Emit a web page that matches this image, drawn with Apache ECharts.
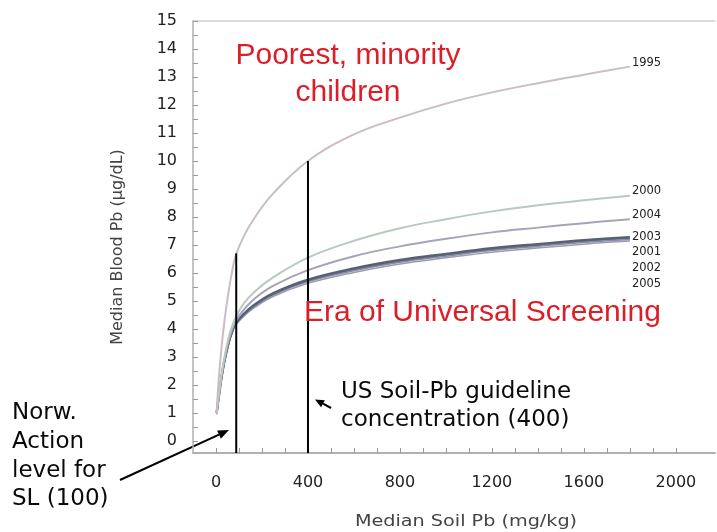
<!DOCTYPE html>
<html>
<head>
<meta charset="utf-8">
<script src="https://cdn.jsdelivr.net/npm/echarts@6/dist/echarts.min.js"></script>
<style>html,body{margin:0;padding:0;background:#fff;}#c{width:717px;height:532px;}</style>
</head>
<body>
<div id="c"></div>
<script>
// ---- data ----
const soilPb = [3, 10, 23, 37, 55, 70, 85, 120, 170, 250, 400, 600, 800, 1000, 1200, 1400, 1600, 1800];
const years = ['1995', '2000', '2004', '2003', '2001', '2002', '2005'];
const blood1995 = [1.0, 2.0, 3.25, 4.3, 5.35, 6.05, 6.6, 7.3, 8.0, 8.85, 10.0, 10.95, 11.55, 12.05, 12.45, 12.78, 13.08, 13.37];
const blood2000 = [1.0, 1.5, 2.3, 3.0, 3.7, 4.1, 4.4, 4.9, 5.35, 5.85, 6.55, 7.15, 7.6, 7.92, 8.2, 8.42, 8.6, 8.76];
const blood2004 = [1.0, 1.47, 2.25, 2.92, 3.58, 3.98, 4.27, 4.68, 5.1, 5.55, 6.1, 6.6, 6.95, 7.22, 7.45, 7.62, 7.78, 7.92];
const blood2003 = [1.0, 1.45, 2.22, 2.87, 3.52, 3.92, 4.19, 4.53, 4.88, 5.28, 5.76, 6.16, 6.46, 6.68, 6.88, 7.03, 7.17, 7.28];
const blood2001 = [1.0, 1.44, 2.2, 2.85, 3.5, 3.9, 4.17, 4.5, 4.85, 5.25, 5.72, 6.12, 6.42, 6.64, 6.84, 6.99, 7.13, 7.24];
const blood2002 = [1.0, 1.43, 2.19, 2.84, 3.48, 3.88, 4.15, 4.48, 4.82, 5.22, 5.69, 6.08, 6.38, 6.6, 6.8, 6.95, 7.09, 7.2];
const blood2005 = [0.95, 1.4, 2.16, 2.81, 3.45, 3.85, 4.12, 4.45, 4.78, 5.17, 5.63, 6.02, 6.32, 6.54, 6.74, 6.89, 7.03, 7.14];
const bloodByYear = [blood1995, blood2000, blood2004, blood2003, blood2001, blood2002, blood2005];

// guideline vertical lines: soil value and blood value reached
const guideSoil = [88, 400];
const guideTop = [6.7, 10.0];

const xTickValues = [0, 100, 200, 300, 400, 500, 600, 700, 800, 900, 1000, 1100, 1200, 1300, 1400, 1500, 1600, 1700, 1800, 1900, 2000];
const xTickLabels = [0, 400, 800, 1200, 1600, 2000];
const yTickValues = [0, 0.5, 1, 1.5, 2, 2.5, 3, 3.5, 4, 4.5, 5, 5.5, 6, 6.5, 7, 7.5, 8, 8.5, 9, 9.5, 10, 10.5, 11, 11.5, 12, 12.5, 13, 13.5, 14, 14.5, 15];
const yTickLabels = [0, 1, 2, 3, 4, 5, 6, 7, 8, 9, 10, 11, 12, 13, 14, 15];

// ---- styles ----
const yearColor = ['#cbbcc6', '#b9cabd', '#a8a2ba', '#596074', '#777f93', '#8a8ea6', '#9b9bb4'];
const yearWidth = [2, 2, 2, 2.5, 1.5, 1.5, 1.5];
const labelDy = [-3.6, -5, -4.2, -0.5, 13.4, 28.3, 43.2];
const X_MIN = -100, X_MAX = 2170, Y_MIN = -0.43, Y_MAX = 15;

const series = years.map((yr, i) => ({
  name: yr,
  type: 'line',
  data: soilPb.map((x, j) => [x, bloodByYear[i][j]]),
  smooth: 0.4,
  showSymbol: false,
  symbol: 'none',
  lineStyle: { color: yearColor[i], width: yearWidth[i] },
  z: 10 - i,
  endLabel: {
    show: true,
    formatter: '{a}',
    distance: 2,
    offset: [0, labelDy[i]],
    fontFamily: 'DejaVu Sans',
    fontSize: 11.5,
    color: '#222'
  }
}));

guideSoil.forEach((s, i) => {
  series.push({
    type: 'line',
    data: [[s, Y_MIN], [s, guideTop[i]]],
    showSymbol: false,
    symbol: 'none',
    lineStyle: { color: '#000', width: 2 },
    z: 20
  });
});

// ---- annotations ----
function arrow(x1, y1, x2, y2, head, w) {
  const dx = x2 - x1, dy = y2 - y1, L = Math.hypot(dx, dy);
  const ux = dx / L, uy = dy / L, px = -uy, py = ux;
  const bx = x2 - ux * head, by = y2 - uy * head;
  return [
    { type: 'line', shape: { x1: x1, y1: y1, x2: bx, y2: by }, style: { stroke: '#000', lineWidth: 2 } },
    { type: 'polygon', shape: { points: [[x2, y2], [bx + px * w, by + py * w], [bx - px * w, by - py * w]] }, style: { fill: '#000' } }
  ];
}
const redFont = { fontFamily: 'Liberation Sans', fontSize: 30, fill: '#dc1e28' };
const blkFont = { fontFamily: 'DejaVu Sans', fontSize: 23, fill: '#0a0a0a' };
function txt(text, x, y, base, align) {
  return { type: 'text', x: x, y: y, z: 50, style: Object.assign({ text: text, align: align || 'left', verticalAlign: 'middle' }, base) };
}
const graphics = [
  txt('Poorest, minority', 348, 56, redFont, 'center'),
  txt('children', 348, 93, redFont, 'center'),
  txt('Era of Universal Screening', 304, 313, redFont),
  txt('US Soil-Pb guideline', 341, 392, blkFont),
  txt('concentration (400)', 341, 420, blkFont),
  txt('Norw.', 12, 413.5, blkFont),
  txt('Action', 12, 442, blkFont),
  txt('level for', 12, 471.5, blkFont),
  txt('SL (100)', 12, 499, blkFont),
  { type: 'text', x: 118, y: 247, rotation: Math.PI / 2, z: 50,
    style: { text: 'Median Blood Pb (µg/dL)', align: 'center', verticalAlign: 'middle', fontFamily: 'DejaVu Sans', fontSize: 16, fill: '#444' } },
  { type: 'text', x: 466, y: 522, scaleX: 1.2, z: 50,
    style: { text: 'Median Soil Pb (mg/kg)', align: 'center', verticalAlign: 'middle', fontFamily: 'DejaVu Sans', fontSize: 16, fill: '#444' } }
].concat(arrow(120, 480, 229, 430, 11, 4.5), arrow(331, 408, 315, 399.5, 9, 4));

const axisGrey = '#b0b0b0';
const chart = echarts.init(document.getElementById('c'), null, { renderer: 'canvas' });
chart.setOption({
  animation: false,
  backgroundColor: '#fff',
  grid: { left: 193, right: 2, top: 21, bottom: 79 },
  xAxis: [{
    type: 'value', min: X_MIN, max: X_MAX,
    axisLine: { show: true, onZero: false, lineStyle: { color: axisGrey, width: 2 } },
    axisTick: { show: true, inside: true, length: 5, customValues: xTickValues, lineStyle: { color: '#999', width: 1 } },
    axisLabel: { customValues: xTickLabels, formatter: v => String(v), margin: 22, fontFamily: 'DejaVu Sans', fontSize: 16, color: '#222' },
    splitLine: { show: false }
  }, {
    type: 'value', position: 'top', min: X_MIN, max: X_MAX,
    axisLine: { show: true, onZero: false, lineStyle: { color: '#d0d0d0', width: 1.5 } },
    axisTick: { show: false }, axisLabel: { show: false }, splitLine: { show: false }
  }],
  yAxis: {
    type: 'value', min: Y_MIN, max: Y_MAX,
    axisLine: { show: true, onZero: false, lineStyle: { color: axisGrey, width: 1.5 } },
    axisTick: { show: true, inside: true, length: 5, customValues: yTickValues, lineStyle: { color: '#999', width: 1 } },
    axisLabel: { customValues: yTickLabels, formatter: v => String(v), margin: 16, padding: [5, 0, 0, 0], fontFamily: 'DejaVu Sans', fontSize: 16, color: '#222' },
    splitLine: { show: false }
  },
  series: series,
  graphic: graphics
});
</script>
</body>
</html>
